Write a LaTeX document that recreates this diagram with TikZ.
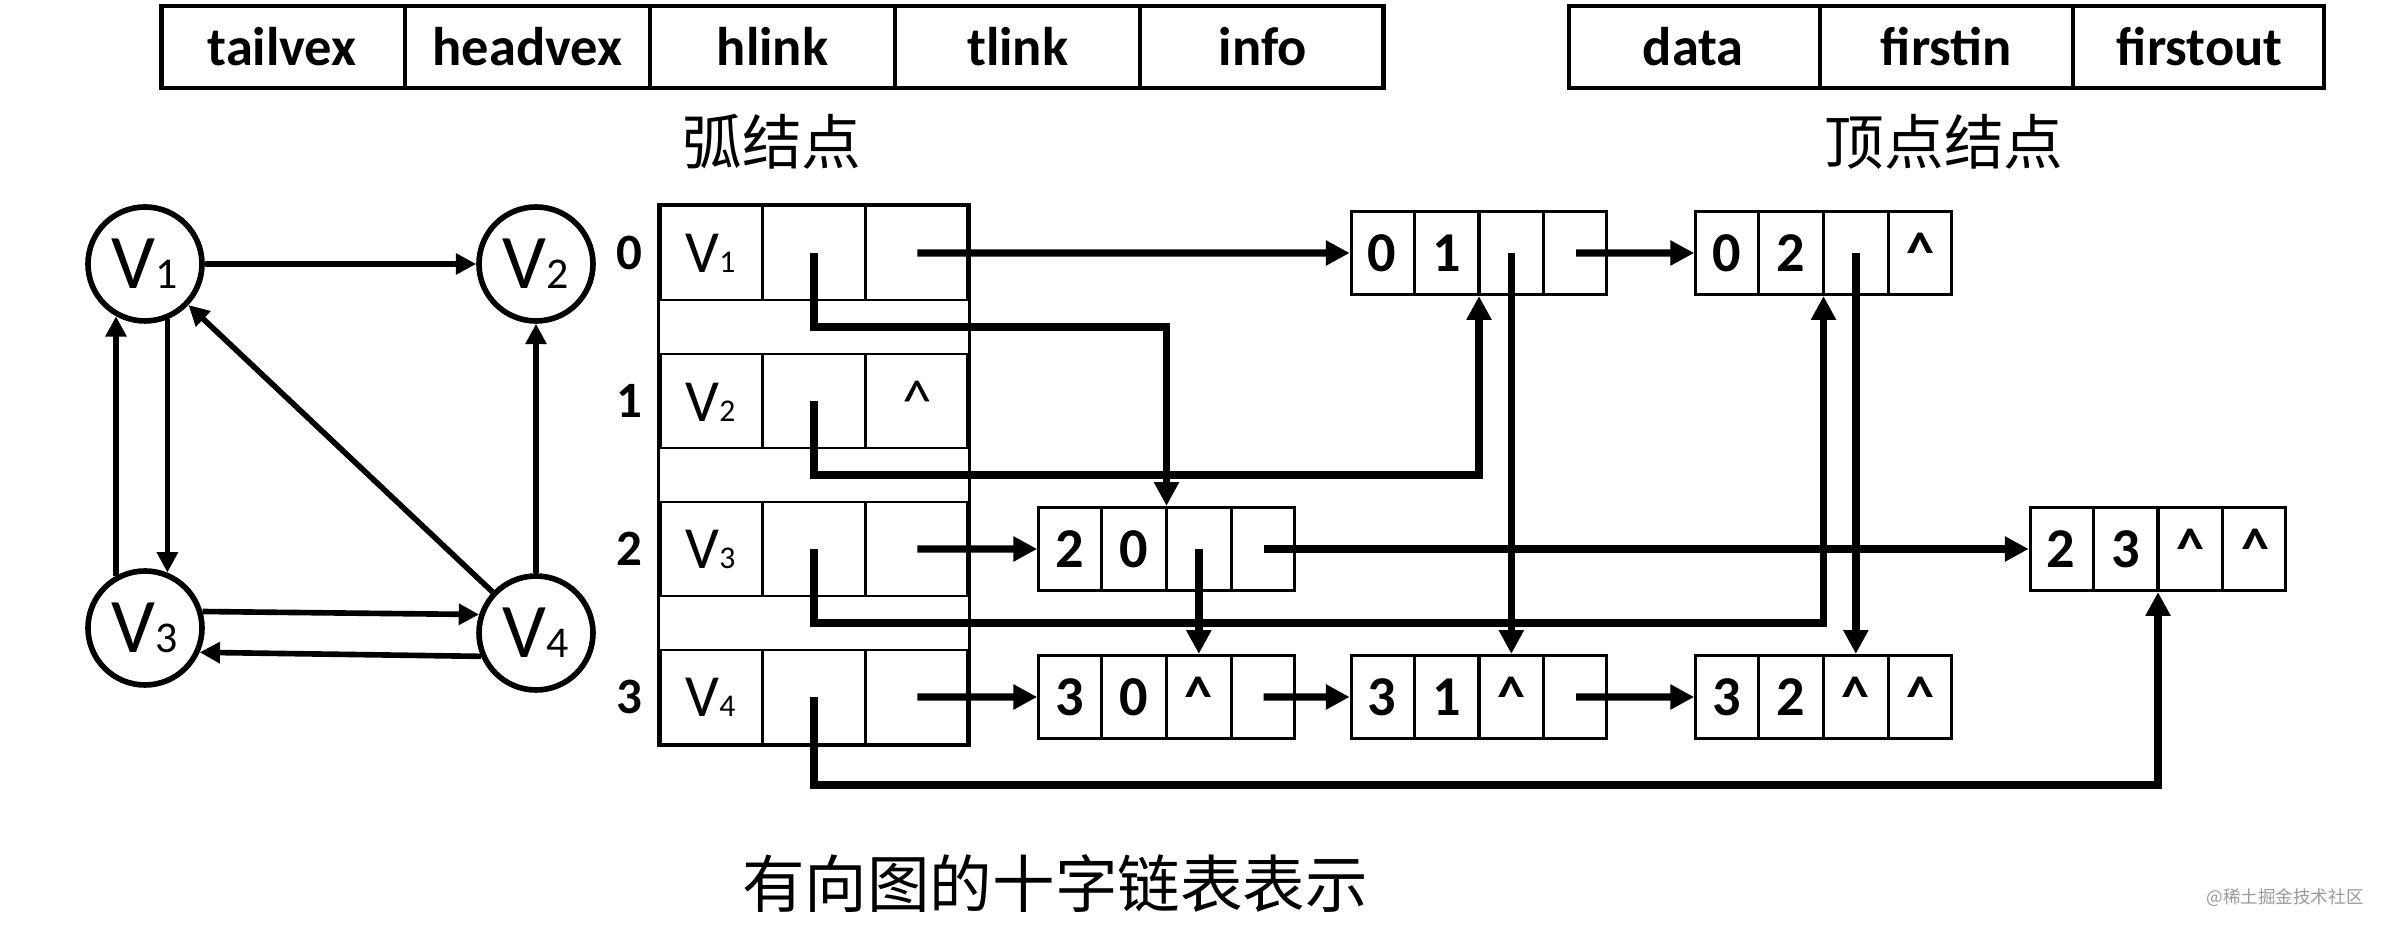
\documentclass[tikz,border=0pt]{standalone}
\usepackage{fontspec}
\setmainfont{Carlito}
\newfontfamily\cjk{Noto Sans CJK SC}
\usetikzlibrary{arrows.meta,calc,positioning,shapes.multipart}

\newcommand{\vsub}[2]{V{\fontsize{#1}{#1}\selectfont #2}}

\begin{document}
\begin{tikzpicture}[
    link/.style={-{Triangle[length=6.8pt,width=6.8pt]}, line width=2.1pt},
    edge/.style={-{Triangle[length=5.8pt,width=5.8pt]}, line width=1.6pt},
    head/.style={
        rectangle split,
        rectangle split horizontal,
        rectangle split part align=base,
        draw,
        line width=1.2pt,
        inner xsep=0pt,
        minimum height=8.2mm,
        align=center,
        font=\fontsize{15.5}{18}\selectfont\bfseries
    },
    vtx/.style={
        rectangle split,
        rectangle split horizontal,
        rectangle split parts=3,
        rectangle split part align=base,
        draw,
        line width=0.8pt,
        inner xsep=0pt,
        text width=10.07mm,
        minimum height=9.4mm,
        align=center,
        font=\fontsize{17}{20}\selectfont
    },
    arc/.style={
        rectangle split,
        rectangle split horizontal,
        rectangle split parts=4,
        rectangle split part align=base,
        draw,
        line width=0.9pt,
        inner xsep=0pt,
        text width=6.15mm,
        minimum height=8.3mm,
        align=center,
        font=\fontsize{16}{18}\selectfont\bfseries
    },
    vert/.style={circle, draw, line width=1.6pt, minimum size=11.4mm,
        inner sep=0pt, font=\fontsize{22}{24}\selectfont},
    idx/.style={inner sep=0pt, font=\fontsize{14.5}{17}\selectfont\bfseries},
    title/.style={font=\cjk\fontsize{17}{20}\selectfont}
]
\useasboundingbox (0,0) rectangle (23.91,9.33);

% Node formats
\node[head, rectangle split parts=5, text width=24.1mm] (arcfmt) at (7.725,8.86)
    {tailvex\nodepart{two}headvex\nodepart{three}hlink\nodepart{four}tlink\nodepart{five}info};
\node[title] (arccap) at (7.72,7.91) {弧结点};

\node[head, rectangle split parts=3, text width=24.9mm] (vtxfmt) at (19.465,8.86)
    {data\nodepart{two}firstin\nodepart{three}firstout};
\node[title] (vtxcap) at (19.44,7.91) {顶点结点};

% Directed graph
\node[vert] (v1) at (1.45,6.69) {\vsub{12.5}{1}};
\node[vert] (v2) at (5.36,6.69) {\vsub{12.5}{2}};
\node[vert] (v3) at (1.45,3.05) {\vsub{12.5}{3}};
\node[vert] (v4) at (5.36,3.00) {\vsub{12.5}{4}};

\draw[edge] (v1.east) -- (v2.west);
\draw[edge] (v1.-68) -- (v3.68);
\draw[edge] (v3.119) -- (v1.-119);
\draw[edge] (v4) -- (v1);
\draw[edge] (v4.north) -- (v2.south);
\draw[edge] (v3.16) -- (v4.162);
\draw[edge] (v4.203) -- (v3.-24);

% Vertex list
\node[vtx] (vtx0) at (8.14,6.80) {\vsub{9}{1}\nodepart{two}\nodepart{three}};
\node[vtx] (vtx1) at (8.14,5.32) {\vsub{9}{2}\nodepart{two}\nodepart{three}\textasciicircum};
\node[vtx] (vtx2) at (8.14,3.84) {\vsub{9}{3}\nodepart{two}\nodepart{three}};
\node[vtx] (vtx3) at (8.14,2.36) {\vsub{9}{4}\nodepart{two}\nodepart{three}};
\draw[line width=0.8pt] (vtx0.north west) rectangle (vtx3.south east);

\node[idx, left=1.6mm of vtx0] (idx0) {0};
\node[idx, left=1.6mm of vtx1] (idx1) {1};
\node[idx, left=1.6mm of vtx2] (idx2) {2};
\node[idx, left=1.6mm of vtx3] (idx3) {3};

% Arc nodes
\node[arc] (arc01) at (14.79,6.80) {0\nodepart{two}1\nodepart{three}\nodepart{four}};
\node[arc] (arc02) at (18.235,6.80) {0\nodepart{two}2\nodepart{three}\nodepart{four}\textasciicircum};
\node[arc] (arc20) at (11.665,3.84) {2\nodepart{two}0\nodepart{three}\nodepart{four}};
\node[arc] (arc23) at (21.58,3.84) {2\nodepart{two}3\nodepart{three}\textasciicircum\nodepart{four}\textasciicircum};
\node[arc] (arc30) at (11.665,2.36) {3\nodepart{two}0\nodepart{three}\textasciicircum\nodepart{four}};
\node[arc] (arc31) at (14.79,2.36) {3\nodepart{two}1\nodepart{three}\textasciicircum\nodepart{four}};
\node[arc] (arc32) at (18.235,2.36) {3\nodepart{two}2\nodepart{three}\textasciicircum\nodepart{four}\textasciicircum};

% firstout / tlink chains
\draw[link] ($(vtx0.west)!0.833!(vtx0.east)$) -- (arc01.west);
\draw[link] ($(arc01.west)!0.875!(arc01.east)$) -- (arc02.west);
\draw[link] ($(vtx2.west)!0.833!(vtx2.east)$) -- (arc20.west);
\draw[link] ($(arc20.west)!0.875!(arc20.east)$) -- (arc23.west);
\draw[link] ($(vtx3.west)!0.833!(vtx3.east)$) -- (arc30.west);
\draw[link] ($(arc30.west)!0.875!(arc30.east)$) -- (arc31.west);
\draw[link] ($(arc31.west)!0.875!(arc31.east)$) -- (arc32.west);

% firstin / hlink chains
\draw[link] (vtx0.center) -- ++(0,-0.74) -| (arc20.north);
\draw[link] (vtx1.center) -- ++(0,-0.74) -| (arc01.south);
\draw[link] (vtx2.center) -- ++(0,-0.74) -| (arc02.south);
\draw[link] (vtx3.center) -- ++(0,-0.88) -| (arc23.south);
\draw[link] ($(arc01.west)!0.625!(arc01.east)$) -- ($(arc31.north west)!0.625!(arc31.north east)$);
\draw[link] ($(arc02.west)!0.625!(arc02.east)$) -- ($(arc32.north west)!0.625!(arc32.north east)$);
\draw[link] ($(arc20.west)!0.625!(arc20.east)$) -- ($(arc30.north west)!0.625!(arc30.north east)$);

\node[title, font=\cjk\fontsize{17.8}{20}\selectfont] (caption) at (10.55,0.49)
    {有向图的十字链表表示};
\node[font=\cjk\fontsize{5}{6}\selectfont, text=black!40] (mark) at (22.85,0.35)
    {@稀土掘金技术社区};

\end{tikzpicture}
\end{document}
